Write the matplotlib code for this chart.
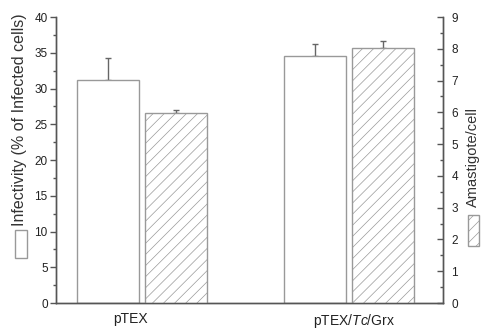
import matplotlib
matplotlib.use("Agg")
import matplotlib.pyplot as plt
from matplotlib.patches import Rectangle
import numpy as np

plt.rcParams['font.family'] = ['Liberation Sans', 'DejaVu Sans']
plt.rcParams['mathtext.fontset'] = 'custom'
plt.rcParams['mathtext.rm'] = 'Liberation Sans'
plt.rcParams['mathtext.it'] = 'Liberation Sans:italic'
plt.rcParams['hatch.linewidth'] = 0.5

categories = ["pTEX", r"pTEX/$\mathit{Tc}$/Grx"]
infectivity = [31.2, 34.5]
infectivity_err = [3.1, 1.7]
amastigote = [5.98, 8.01]
amastigote_err = [0.1, 0.25]

edge = '#999999'
axcol = '#555555'

fig = plt.figure(figsize=(4.84, 3.29), dpi=100)
ax = fig.add_axes([56/484, 1-303/329, (443-56)/484, (303-17)/329])
ax2 = ax.twinx()

x = np.arange(len(categories))
w = 0.30
off = 0.164

ax.bar(x - off, infectivity, width=w, color='white', edgecolor=edge, linewidth=1.0, zorder=2)
ax.errorbar(x - off, infectivity, yerr=[np.zeros(len(x)), infectivity_err], fmt='none',
            ecolor='#666666', elinewidth=1.0, capsize=2.5, capthick=1.0, zorder=1)
ax2.bar(x + off, amastigote, width=w, color='white', edgecolor=edge, hatch='///', linewidth=1.0, zorder=2)
ax2.errorbar(x + off, amastigote, yerr=[np.zeros(len(x)), amastigote_err], fmt='none',
             ecolor='#666666', elinewidth=1.0, capsize=2.5, capthick=1.0, zorder=1)

ax.set_xlim(-0.415, 1.454)
ax.set_ylim(0, 40)
ax2.set_ylim(0, 9)

ax.set_yticks(np.arange(0, 41, 5))
ax.set_yticks(np.arange(0, 41, 2.5), minor=True)
ax2.set_yticks(np.arange(0, 10, 1))
ax2.set_yticks(np.arange(0, 9.1, 0.5), minor=True)

ax.set_xticks(x + np.array([-0.053, 0.024]))
ax.set_xticklabels(categories, fontsize=10)
ax.tick_params(axis='x', length=0, pad=6.5, colors='#222222')
ax.tick_params(axis='y', which='major', direction='out', length=4, width=1, colors=axcol,
               labelsize=8.5, labelcolor='#222222', pad=2)
ax.tick_params(axis='y', which='minor', direction='out', length=2, width=1, colors=axcol)
ax2.tick_params(axis='y', which='major', direction='in', length=4, width=1, colors=axcol,
                labelsize=8.5, labelcolor='#222222', pad=6)
ax2.tick_params(axis='y', which='minor', direction='in', length=2, width=1, colors=axcol)

for a in (ax, ax2):
    a.spines['top'].set_visible(False)
    for s in ('left', 'right', 'bottom'):
        a.spines[s].set_color(axcol)
        a.spines[s].set_linewidth(1.0)

# y labels with legend keys
fig.text(20/484, 1-120/329, "Infectivity (% of Infected cells)", rotation=90,
         ha='center', va='center', fontsize=11.5, color='#333333')
fig.patches.append(Rectangle((15/484, 1-258/329), 12/484, 28/329, transform=fig.transFigure,
                             facecolor='white', edgecolor=edge, linewidth=1.0))
fig.text(473/484, 1-157/329, "Amastigote/cell", rotation=90,
         ha='center', va='center', fontsize=10.5, color='#333333')
fig.patches.append(Rectangle((468/484, 1-246/329), 11/484, 31/329, transform=fig.transFigure,
                             facecolor='white', edgecolor=edge, hatch='///', linewidth=1.0))

fig.savefig("out.png", dpi=100)
